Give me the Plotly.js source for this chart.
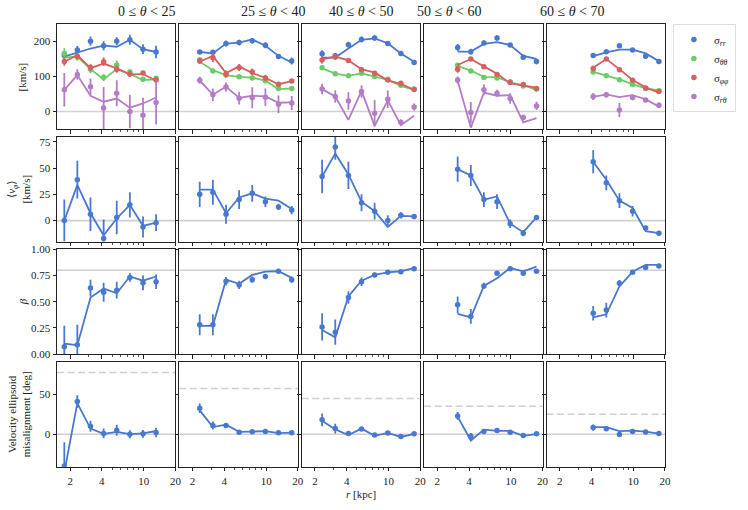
<!DOCTYPE html>
<html><head><meta charset="utf-8">
<script src="https://cdn.plot.ly/plotly-3.0.1.min.js"></script>
<style>body{margin:0;background:#fff;} #chart{width:748px;height:510px;}</style>
</head><body><div id="chart"></div>
<script>
// radial bin centres [kpc]
const rBins = [1.76, 2.34, 3.12, 4.16, 5.54, 7.38, 9.84, 13.1, 17.5];
// first bin used by each theta column
const binStart = [0, 1, 1, 2, 3];
const thetaTitles = ["0 ≤ <i>θ</i> < 25", "25 ≤ <i>θ</i> < 40", "40 ≤ <i>θ</i> < 50", "50 ≤ <i>θ</i> < 60", "60 ≤ <i>θ</i> < 70"];
const alignRef = [77.5, 57.5, 45, 35, 25];

const seriesNames = ["σ<sub><i>rr</i></sub>", "σ<sub><i>θθ</i></sub>", "σ<sub><i>φφ</i></sub>", "σ<sub><i>rθ</i></sub>"];
const seriesColors = ["#4878CF", "#6ACC65", "#D65F5F", "#B47CC7"];

// ---- row 1: dispersions [km/s] (per column)
const srrPts  = [[160,176,201,188,201,205,178,170],[170,169,194,197,202,189,157,144],[165,159,191,206,210,194,166,140],[183,171,196,210,190,155,143],[160,171,188,176,158,143]];
const srrErr  = [[12,11,13,13,11,14,14,18],[6,6,8,8,8,8,7,10],[10,8,8,8,8,7,6,6],[10,8,7,8,6,7,8],[5,5,6,5,6,6]];
const srrLine = [[157,169,180,188,185,205,178,170],[170,166,194,197,206,188,159,140],[154,154,180,205,209,195,166,142],[171,171,193,198,190,159,150],[158,169,177,177,166,144]];

const sththPts  = [[166,156,121,97,133,113,92,95],[148,116,104,99,96,88,66,66],[125,108,102,109,100,92,75,64],[132,116,97,96,85,73,64],[113,102,91,77,66,59]];
const sththErr  = [[15,10,12,10,13,8,6,6],[6,4,4,3,3,3,3,3],[6,4,3,3,3,3,3,3],[6,4,3,3,3,3,3],[3,3,3,3,3,3]];
const sththLine = [[154,157,121,92,121,107,90,92],[142,118,104,99,97,88,64,66],[123,108,102,109,100,90,73,62],[130,117,99,98,83,75,62],[113,103,92,78,66,60]];

const sphphPts  = [[143,158,126,142,121,107,110,90],[144,154,107,126,113,96,78,87],[147,156,146,119,109,90,81,63],[121,150,128,106,83,77,66],[123,150,119,89,67,57]];
const sphphErr  = [[12,10,10,12,10,8,6,8],[8,13,10,10,10,8,4,4],[10,8,6,5,5,4,4,3],[10,6,5,4,4,4,4],[8,6,5,4,4,4]];
const sphphLine = [[142,161,124,137,123,106,107,88],[142,159,110,129,110,96,78,87],[149,157,146,121,111,89,79,62],[133,150,129,108,80,75,68],[125,150,121,90,69,54]];

const srthPts  = [[62,106,71,10,52,0,-11,26],[89,48,70,38,39,41,21,24],[64,43,30,57,-5,35,-31,13],[90,-3,62,52,37,-17,16],[43,48,4,40,33,18]];
const srthErr  = [[48,15,23,60,37,48,50,63],[10,18,13,18,30,25,25,20],[15,18,25,18,38,25,8,10],[10,30,15,10,15,8,12],[10,8,20,8,6,8]];
const srthLine = [[62,104,45,28,37,11,23,40],[88,48,71,39,45,43,25,26],[64,43,-24,59,-41,32,-39,-12],[88,-46,54,45,47,-31,-19],[42,49,41,47,35,14]];

// ---- row 2: mean v_phi [km/s]
const vphiPts  = [[0,39,6,-17,3,15,-6,-2],[25,27,6,20,26,18,13,10],[42,70,43,17,9,0,5,4],[49,43,20,18,-3,-12,3],[56,36,19,9,-7,-12]];
const vphiErr  = [[20,18,16,18,16,12,10,8],[12,12,9,9,8,5,3,4],[16,12,13,8,8,5,3,2],[12,10,7,7,4,3,2],[11,7,7,5,2,1]];
const vphiLine = [[0,34,7,-14,2,15,-5,-2],[29.5,29.5,7,22,26,21,19,11],[42,64,44,18,9,-6,4.5,4],[49,43,20,23,-3,-11,3],[56,39,19,12,-10,-12]];

// ---- row 3: anisotropy beta
const betaPts  = [[0.07,0.09,0.63,0.59,0.61,0.73,0.68,0.69],[0.28,0.28,0.695,0.66,0.71,0.74,0.79,0.71],[0.26,0.21,0.54,0.69,0.755,0.78,0.785,0.815],[0.47,0.36,0.65,0.77,0.815,0.77,0.79],[0.39,0.42,0.676,0.78,0.825,0.84]];
const betaErr  = [[0.2,0.19,0.08,0.09,0.08,0.04,0.07,0.07],[0.1,0.1,0.04,0.04,0.03,0.02,0.015,0.03],[0.13,0.12,0.06,0.04,0.02,0.015,0.015,0.015],[0.08,0.07,0.03,0.01,0.01,0.015,0.015],[0.07,0.07,0.03,0.01,0.01,0.01]];
const betaLine = [[0.10,0.086,0.54,0.625,0.58,0.74,0.70,0.74],[0.27,0.27,0.71,0.67,0.755,0.787,0.79,0.727],[0.23,0.16,0.55,0.70,0.755,0.78,0.79,0.82],[0.384,0.35,0.65,0.724,0.82,0.79,0.835],[0.35,0.38,0.645,0.785,0.85,0.85]];

// ---- row 4: misalignment [deg]
const tiltPts  = [[-40,41,10,1,5,0,0.4,2],[32.5,11,11,2.5,3,3.3,1.7,1.7],[18,7,1,6.5,-1,1.5,-3,0.5],[23,-2.5,3.3,4.6,2.5,-1.7,0.4],[8.3,6.7,-0.4,3.3,2.9,0.8]];
const tiltErr  = [[30,8,7,6,7,5,5,6],[6,5,3,2,2,2,1.5,1.5],[8,6,3,2,2,2,1.5,1.5],[5,4,2,1.5,1.5,1.5,1],[4,1.5,1,1,1,1]];
const tiltLine = [[-48,39,7,0.5,3,0,1,4],[30,9,12,3,3.3,3.8,1.3,2],[17,6,-1,7,-2,1.5,-3.5,0.5],[22,-8,5.8,4.2,4.2,-2,0],[9,9,3.8,4.6,3.3,0.8]];

const xTickVals = [2, 4, 10, 20];
const xMinorVals = [3, 5, 6, 7, 8, 9];

const rowRanges = [[-50, 250], [-20, 80], [0, 1], [-41, 91]];
const rowTicks = [[0, 100, 200], [0, 25, 50, 75], [0, 0.25, 0.5, 0.75, 1], [0, 50]];
const rowRef = [0, 0, 0.8, 0];
const rowLabels = ["[km/s]", "⟨<i>v</i><sub><i>φ</i></sub>⟩<br>[km/s]", "<i>β</i>", "Velocity ellipsoid<br>misalignment [deg]"];
const rowLabelX = [21.5, 18, 22, 18.5];

const FONT = "Liberation Serif, DejaVu Serif, serif";
const W = 748, H = 510, ML = 57, MR = 75, MT = 24, MB = 43;
const PW = W - ML - MR, PH = H - MT - MB;
const PANW = 120, GAPX = 4, PANH = 105, GAPY = 7.6;

const traces = [];
const layout = {
  width: W, height: H, margin: {l: ML, r: MR, t: MT, b: MB},
  paper_bgcolor: "#fff", plot_bgcolor: "#fff",
  font: {family: FONT, size: 11, color: "#222"},
  showlegend: true,
  legend: {x: 1.013, y: 1, xanchor: "left", yanchor: "top", bgcolor: "#fff",
           bordercolor: "#dddddd", borderwidth: 1, font: {size: 11, family: FONT},
           itemwidth: 30, tracegroupgap: 0},
  shapes: [], annotations: []
};

function ax(n) { return n === 1 ? "" : String(n); }

for (let r = 0; r < 4; r++) {
  for (let c = 0; c < 5; c++) {
    const n = r * 5 + c + 1, s = ax(n);
    const x0 = c * (PANW + GAPX) / PW, x1 = (c * (PANW + GAPX) + PANW) / PW;
    const top = r * (PANH + GAPY);
    const y1 = 1 - top / PH, y0 = 1 - (top + PANH) / PH;
    layout["xaxis" + s] = {
      domain: [x0, x1], anchor: "y" + s, type: "log",
      range: [Math.log10(1.5), Math.log10(20)],
      tickmode: "array", tickvals: xTickVals, ticktext: xTickVals.map(String),
      showticklabels: r === 3, ticks: "outside", ticklen: 3.5, tickwidth: 1, tickcolor: "#222",
      minor: {tickmode: "array", tickvals: xMinorVals, ticks: "outside", ticklen: 2, tickwidth: 0.8, tickcolor: "#222", showgrid: false},
      showgrid: false, zeroline: false, showline: true, linecolor: "#222", linewidth: 1, mirror: true,
      tickfont: {size: 11, family: FONT, color: "#222"}
    };
    layout["yaxis" + s] = {
      domain: [y0, y1], anchor: "x" + s, range: rowRanges[r],
      tickmode: "array", tickvals: rowTicks[r],
      ticktext: rowTicks[r].map(v => r === 2 ? v.toFixed(2) : String(v)),
      showticklabels: c === 0, ticks: "outside", ticklen: 3.5, tickwidth: 1, tickcolor: "#222",
      showgrid: false, zeroline: false, showline: true, linecolor: "#222", linewidth: 1, mirror: true,
      tickfont: {size: 11, family: FONT, color: "#222"}
    };
    // reference lines
    layout.shapes.push({type: "line", xref: "x" + s + " domain", yref: "y" + s, x0: 0, x1: 1,
      y0: rowRef[r], y1: rowRef[r], line: {color: "#d0d0d0", width: 1.6}, layer: "below"});
    if (r === 3) {
      layout.shapes.push({type: "line", xref: "x" + s + " domain", yref: "y" + s, x0: 0, x1: 1,
        y0: alignRef[c], y1: alignRef[c], line: {color: "#cfcfcf", width: 1.5, dash: "7px,3.5px"}, layer: "below"});
    }
    let groups;
    if (r === 0) {
      groups = [[srrPts, srrErr, srrLine], [sththPts, sththErr, sththLine], [sphphPts, sphphErr, sphphLine], [srthPts, srthErr, srthLine]];
    } else if (r === 1) groups = [[vphiPts, vphiErr, vphiLine]];
    else if (r === 2) groups = [[betaPts, betaErr, betaLine]];
    else groups = [[tiltPts, tiltErr, tiltLine]];
    groups.forEach((g, k) => {
      const pts = g[0][c], err = g[1][c], line = g[2][c];
      const xs = rBins.slice(binStart[c], binStart[c] + pts.length);
      const col = seriesColors[k];
      traces.push({type: "scatter", mode: "lines", x: xs, y: line, xaxis: "x" + s, yaxis: "y" + s,
        line: {color: col, width: 1.8}, showlegend: false, hoverinfo: "skip"});
      const tr = {type: "scatter", mode: "markers", x: xs, y: pts, xaxis: "x" + s, yaxis: "y" + s,
        marker: {color: col, size: 5.5},
        error_y: {type: "data", array: err, visible: true, color: col, thickness: 1.8, width: 0},
        showlegend: (r === 0 && c === 0), legendgroup: "g" + k};
      if (r === 0) tr.name = seriesNames[k];
      traces.push(tr);
    });
    if (r === 0) {
      layout.annotations.push({xref: "paper", yref: "paper", x: (x0 + x1) / 2, y: 1, yanchor: "bottom", yshift: 3,
        text: thetaTitles[c], showarrow: false, font: {size: 14, family: FONT, color: "#222"}});
    }
    if (c === 0) {
      layout.annotations.push({xref: "paper", yref: "paper", x: (rowLabelX[r] - ML) / PW, y: (y0 + y1) / 2,
        xanchor: "center", yanchor: "middle", textangle: -90, text: rowLabels[r], showarrow: false,
        font: {size: 11, family: FONT, color: "#222"}});
    }
  }
}
layout.annotations.push({xref: "paper", yref: "paper", x: 0.5, y: -(494 - (H - MB)) / PH, xanchor: "center", yanchor: "middle",
  text: "<i>r</i> [kpc]", showarrow: false, font: {size: 11, family: FONT, color: "#222"}});

Plotly.newPlot("chart", traces, layout, {staticPlot: true, displayModeBar: false});
</script>
</body></html>
